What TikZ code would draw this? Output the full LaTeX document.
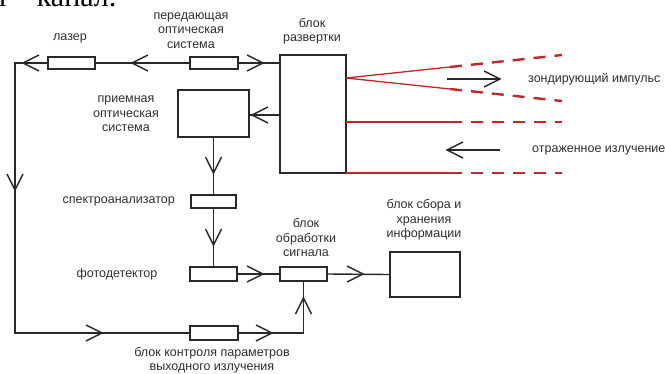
\documentclass[tikz,border=0pt]{standalone}
\usepackage{fontspec}
\setmainfont{Liberation Sans}
\newfontfamily\serifdoc{Liberation Serif}
\definecolor{redl}{RGB}{192,38,42}
\definecolor{inkc}{RGB}{40,40,40}
% open V arrowheads, tip at the named coordinate
\newcommand\vtipL[1]{\draw[ln] (#1) +(16,-8) -- (#1) -- +(16,8);}
\newcommand\vtipR[1]{\draw[ln] (#1) +(-16,-8) -- (#1) -- +(-16,8);}
\newcommand\vtipD[1]{\draw[ln] (#1) +(-8,-16) -- (#1) -- +(8,-16);}
\newcommand\vtipU[1]{\draw[ln] (#1) +(-8,16) -- (#1) -- +(8,16);}
\begin{document}
\begin{tikzpicture}[x=1pt,y=-1pt,
  box/.style={draw=inkc, line width=1.4pt, rectangle, inner sep=0pt},
  lbl/.style={font=\fontsize{12.5}{14.5}\selectfont, align=center, inner sep=0pt, text=black!82},
  ln/.style={draw=inkc, line width=1.4pt},
  rsolid/.style={draw=redl, line width=1.3pt},
  rdash/.style={draw=redl, line width=2.4pt, dash pattern=on 12pt off 9pt}
]
\useasboundingbox (0,0) rectangle (665,373);
\clip (0,0) rectangle (665,373);

% cropped document text at the top
\node[font=\serifdoc\fontsize{30}{30}\selectfont, anchor=base west, inner sep=0pt] (cap) at (-4,6) {т –\,канал.};

% boxes
\node[box, minimum width=47pt, minimum height=12pt] (laser) at (71.5,63) {};
\node[box, minimum width=48pt, minimum height=12pt] (ptx) at (214,63) {};
\node[box, minimum width=66pt, minimum height=118pt] (scan) at (313,114) {};
\node[box, minimum width=71pt, minimum height=47pt] (rx) at (213.5,113.5) {};
\node[box, minimum width=45pt, minimum height=13pt] (spec) at (213.5,201.5) {};
\node[box, minimum width=47pt, minimum height=14pt] (photo) at (213.5,274) {};
\node[box, minimum width=47pt, minimum height=14pt] (proc) at (303.5,274) {};
\node[box, minimum width=70pt, minimum height=45pt] (info) at (425,274.5) {};
\node[box, minimum width=48pt, minimum height=14pt] (ctrl) at (214,333) {};

% labels
\node[lbl] (lLaser) at (70,38) {лазер};
\node[lbl] (lPtx) at (191,30.5) {передающая\\оптическая\\система};
\node[lbl] (lScan) at (312,31) {блок\\развертки};
\node[lbl] (lRx) at (126,114) {приемная\\оптическая\\система};
\node[lbl, anchor=east] (lSpec) at (175,201) {спектроанализатор};
\node[lbl] (lPhoto) at (117,274) {фотодетектор};
\node[lbl] (lProc) at (306,237.5) {блок\\обработки\\сигнала};
\node[lbl] (lInfo) at (424,220) {блок сбора и\\хранения\\информации};
\node[lbl, anchor=west] (lProbe) at (528,79) {зондирующий импульс};
\node[lbl, anchor=west] (lRefl) at (532,150) {отраженное излучение};
\node[lbl] (lCtrl) at (212,360) {блок контроля параметров\\выходного излучения};

% corner / tip coordinates
\coordinate (sTop) at (280,63);
\coordinate (sMid) at (280,115);
\coordinate (cTL) at (15,63);
\coordinate (cBL) at (15,333);
\coordinate (cBR) at (303.5,333);
\coordinate (t1) at (23,63);
\coordinate (t2) at (15,190);
\coordinate (t3) at (102,333);
\coordinate (t4) at (272,333);
\coordinate (t5) at (303.5,298);
\coordinate (t6) at (252,115);
\coordinate (t7) at (213.5,173);
\coordinate (t8) at (213.5,245);
\coordinate (t9) at (263,274);
\coordinate (t10) at (363,274);
\coordinate (ta) at (263,63);
\coordinate (tb) at (132,63);

% outgoing light path and control loop
\draw[ln] (sTop) -- (ptx.east);
\draw[ln] (ptx.west) -- (laser.east);
\draw[ln] (laser.west) -- (cTL) -- (cBL) -- (ctrl.west);
\draw[ln] (ctrl.east) -- (cBR) -- (proc.south);
\vtipR{ta}
\vtipL{tb}
\vtipL{t1}
\vtipD{t2}
\vtipR{t3}
\vtipR{t4}
\vtipU{t5}
% receive chain
\draw[ln] (sMid) -- (rx.east |- sMid);
\draw[ln] (rx.south) -- (spec.north);
\draw[ln] (spec.south) -- (photo.north);
\draw[ln] (photo.east) -- (proc.west);
\draw[ln] (proc.east) -- (info.west);
\vtipL{t6}
\vtipD{t7}
\vtipD{t8}
\vtipR{t9}
\vtipR{t10}

% red beams
\coordinate (r0) at (346,78);
\coordinate (ru1) at (450,67);
\coordinate (ru2) at (562,55);
\coordinate (rl1) at (450,89);
\coordinate (rl2) at (562,101);
\coordinate (rh0) at (346,122);
\coordinate (rh1) at (450,122);
\coordinate (rh2) at (562,122);
\coordinate (rb0) at (346,173);
\coordinate (rb1) at (450,173);
\coordinate (rb2) at (562,173);
\draw[rsolid] (r0) -- (ru1);
\draw[rdash] (ru1) -- (ru2);
\draw[rsolid] (r0) -- (rl1);
\draw[rdash] (rl1) -- (rl2);
\draw[rsolid] (rh0) -- (rh1);
\draw[rdash] (rh1) -- (rh2);
\draw[rsolid] (rb0) -- (rb1);
\draw[rdash] (rb1) -- (rb2);

% direction arrows
\coordinate (pa) at (447,79);
\coordinate (pb) at (500,79);
\coordinate (qa) at (500,150);
\coordinate (qb) at (447,150);
\draw[ln] (pa) -- (pb);
\vtipR{pb}
\draw[ln] (qa) -- (qb);
\vtipL{qb}
\end{tikzpicture}
\end{document}
